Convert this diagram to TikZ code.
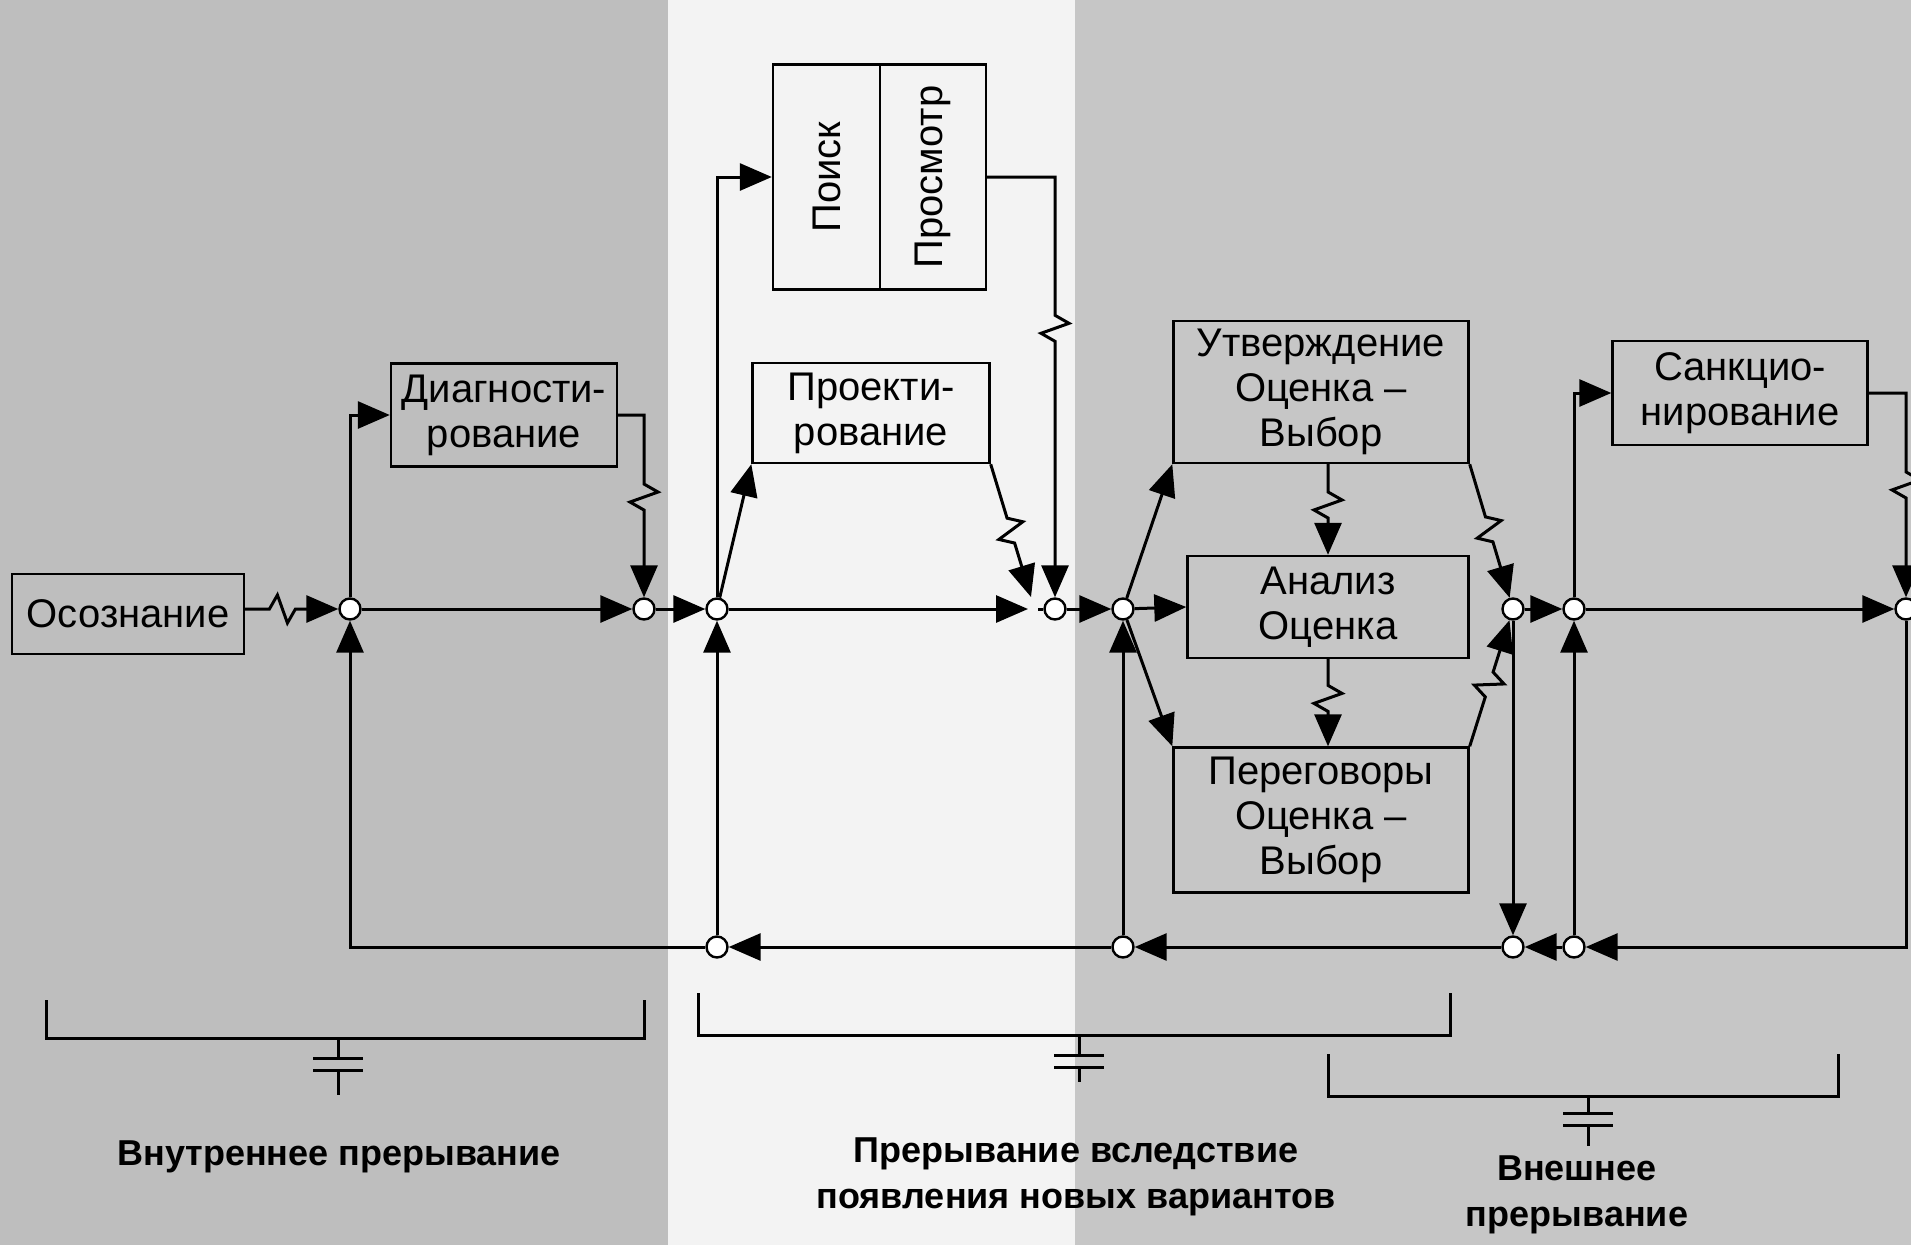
\documentclass[tikz,border=0pt]{standalone}
\usepackage{fontspec}
\setmainfont{Liberation Sans}
\usetikzlibrary{arrows.meta,calc}
\newcommand\zz[3]{-- ($(#1)!#3!(#2)!-13pt!(#2)$) -- ($(#1)!#3!(#2)!-5pt!(#2)!14pt!90:(#2)$) -- ($(#1)!#3!(#2)!5pt!(#2)!14pt!-90:(#2)$) -- ($(#1)!#3!(#2)!13pt!(#2)$)}
\definecolor{grayL}{HTML}{BEBEBE}
\definecolor{grayR}{HTML}{C6C6C6}
\definecolor{midW}{HTML}{F3F3F3}
\begin{document}
\begin{tikzpicture}[x=1pt,y=-1pt,
  box/.style={draw, line width=2.4pt, inner sep=0pt, align=center, font=\fontsize{40}{45}\selectfont},
  jn/.style={circle, draw, fill=white, line width=2.4pt, minimum size=21pt, inner sep=0pt},
  conn/.style={line width=3pt, line join=miter, -{Triangle[length=32pt,width=27pt]}},
  plain/.style={line width=3pt},
  lbl/.style={font=\bfseries\fontsize{36}{46}\selectfont, align=center}]
% backgrounds
\fill[grayL] (0,0) rectangle (668,1245);
\fill[midW] (668,0) rectangle (1075,1245);
\fill[grayR] (1075,0) rectangle (1911,1245);
\useasboundingbox (0,0) rectangle (1911,1245);
% boxes
\node[box, minimum width=232pt, minimum height=80pt] (osoz) at (128,614) {Осознание};
\node[box, minimum width=226pt, minimum height=103pt] (diag) at (504,415) {Диагности-\\рование};
\node[box, minimum width=107pt, minimum height=225pt] (poisk) at (826.5,177) {};
\node[box, minimum width=106pt, minimum height=225pt] (prosm) at (933,177) {};
\node[font=\fontsize{40}{45}\selectfont, rotate=90] (tpoisk) at (poisk.center) {Поиск};
\node[font=\fontsize{40}{45}\selectfont, rotate=90] (tprosm) at (prosm.center) {Просмотр};
\node[box, minimum width=237pt, minimum height=100pt] (proekt) at (871,413) {Проекти-\\рование};
\node[box, minimum width=295pt, minimum height=142pt] (utv) at (1321,392) {Утверждение\\Оценка –\\Выбор};
\node[box, minimum width=281pt, minimum height=102pt] (anal) at (1328,607) {Анализ\\Оценка};
\node[box, minimum width=295pt, minimum height=145pt] (pereg) at (1321,820) {Переговоры\\Оценка –\\Выбор};
\node[box, minimum width=255pt, minimum height=104pt] (sank) at (1740,393) {Санкцио-\\нирование};
% junctions
\node[jn] (j1) at (350,609) {};
\node[jn] (j2) at (644,609) {};
\node[jn] (j3) at (717,609) {};
\node[jn] (j4) at (1055,609) {};
\node[jn] (j5) at (1123,609) {};
\node[jn] (j6) at (1513,609) {};
\node[jn] (j7) at (1574,609) {};
\node[jn] (j8) at (1906,609) {};
\node[jn] (b1) at (717,947) {};
\node[jn] (b2) at (1123,947) {};
\node[jn] (b3) at (1513,947) {};
\node[jn] (b4) at (1574,947) {};
% helper coordinates
\coordinate (o1) at (osoz.east |- j1);
\coordinate (d1) at (j2 |- diag.east);
\coordinate (j4a) at (1028,609);
\coordinate (j4b) at (1031,597);
\coordinate (j4c) at (1038,609);
\coordinate (p1) at (j4 |- prosm.east);
\coordinate (u1) at (anal.north |- utv.south);
\coordinate (a2) at (anal.south |- pereg.north);
\coordinate (s1) at (j8 |- sank.east);
\coordinate (c1) at (j8 |- b4);
% connectors
\draw[conn] (o1) \zz{o1}{j1.west}{.4} -- (j1);
\draw[conn] (j1) |- (diag.west);
\draw[conn] (diag.east) -- (d1) \zz{d1}{j2.north}{.45} -- (j2);
\draw[conn] (j1) -- (j2);
\draw[conn] (j2) -- (j3);
\draw[conn] (j3) |- (poisk.west);
\draw[conn] (j3) -- (proekt.south west);
\draw[conn] (j3) -- (j4a);
\draw[conn] (proekt.south east) \zz{proekt.south east}{j4b}{.5} -- (j4b);
\draw[conn] (prosm.east) -- (p1) \zz{p1}{j4.north}{.36} -- (j4);
\draw[plain] (j4c) -- (j4);
\draw[conn] (j4) -- (j5);
\draw[conn] (j5) -- (utv.south west);
\draw[conn] (j5) -- (anal.west);
\draw[conn] (j5) -- (pereg.north west);
\draw[conn] (u1) \zz{u1}{anal.north}{.45} -- (anal.north);
\draw[conn] (anal.south) \zz{anal.south}{a2}{.45} -- (a2);
\draw[conn] (utv.south east) \zz{utv.south east}{j6}{.45} -- (j6);
\draw[conn] (pereg.north east) \zz{pereg.north east}{j6}{.45} -- (j6);
\draw[conn] (j6) -- (j7);
\draw[conn] (j6) -- (b3);
\draw[conn] (j7) |- (sank.west);
\draw[conn] (j7) -- (j8);
\draw[conn] (sank.east) -- (s1) \zz{s1}{j8.north}{.45} -- (j8);
\draw[conn] (j8) -- (c1) -- (b4);
\draw[conn] (b4) -- (b3);
\draw[conn] (b3) -- (b2);
\draw[conn] (b2) -- (b1);
\draw[conn] (b1) -| (j1);
\draw[conn] (b1) -- (j3);
\draw[conn] (b2) -- (j5);
\draw[conn] (b4) -- (j7);
% brackets
\draw[plain] (46,1000) -- (46,1038) -- (644,1038) -- (644,1000);
\draw[plain] (338,1038) -- (338,1058) (313,1058) -- (363,1058) (313,1070) -- (363,1070) (338,1070) -- (338,1095);
\draw[plain] (698,993) -- (698,1035) -- (1450,1035) -- (1450,993);
\draw[plain] (1079,1035) -- (1079,1055) (1054,1055) -- (1104,1055) (1054,1067) -- (1104,1067) (1079,1067) -- (1079,1082);
\draw[plain] (1328,1054) -- (1328,1096) -- (1838,1096) -- (1838,1054);
\draw[plain] (1588,1096) -- (1588,1113) (1563,1113) -- (1613,1113) (1563,1125) -- (1613,1125) (1588,1125) -- (1588,1146);
% labels
\node[lbl] (l1) at (339,1157) {Внутреннее прерывание};
\node[lbl] (l2) at (1076,1177) {Прерывание вследствие\\появления новых вариантов};
\node[lbl] (l3) at (1577,1195) {Внешнее\\прерывание};
\end{tikzpicture}
\end{document}
